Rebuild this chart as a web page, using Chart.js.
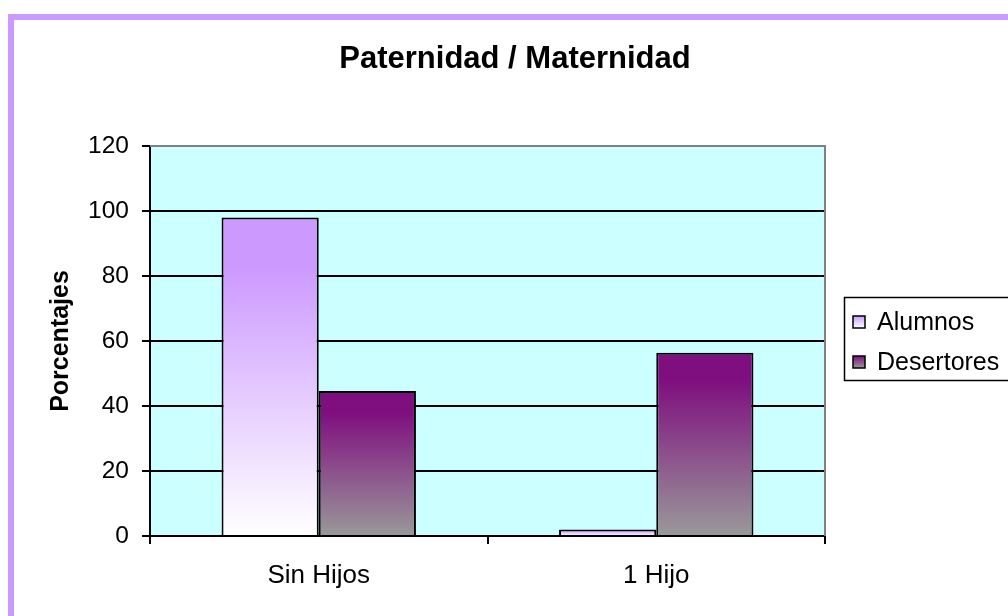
<!DOCTYPE html>
<html>
<head>
<meta charset="utf-8">
<title>Paternidad / Maternidad</title>
<script src="https://cdn.jsdelivr.net/npm/chart.js@4"></script>
<style>
  html, body { margin: 0; padding: 0; background: #fff; }
  #wrap { width: 1008px; height: 616px; position: relative; }
</style>
</head>
<body>
<div id="wrap"><canvas id="chart" width="1008" height="616"></canvas></div>
<script>
// Datos
const titulo = 'Paternidad / Maternidad';
const categorias = ['Sin Hijos', '1 Hijo'];
const alumnos = [98, 2];
const desertores = [44.6, 56.4];
const ticksY = [0, 20, 40, 60, 80, 100, 120];

// colores degradados (arriba, abajo)
const colAlumnos = ['#CC99FF', '#FFFFFF'];
const colDesertores = ['#7F0F7F', '#999999'];

const FUENTE = "'Liberation Sans', Arial, sans-serif";
Chart.defaults.font.family = FUENTE;
Chart.defaults.color = '#000';

function degradado(ctx, cols) {
    const chart = ctx.chart;
    if (!chart.chartArea || !ctx.parsed) return cols[0];
    const y = chart.scales.y;
    const y0 = y.getPixelForValue(ctx.parsed.y);
    const y1 = y.getPixelForValue(0);
    const g = chart.ctx.createLinearGradient(0, y0, 0, y1);
    g.addColorStop(0, cols[0]);
    g.addColorStop(0.15, cols[0]);
    g.addColorStop(1, cols[1]);
    return g;
}

// fondo del area, marco morado, titulo y leyenda con recuadro
const extras = {
    id: 'extras',
    beforeDraw(chart) {
        const c = chart.ctx;
        const a = chart.chartArea;
        c.save();
        c.fillStyle = '#fff';
        c.fillRect(0, 0, chart.width, chart.height);
        c.fillStyle = '#CC99FF';
        c.fillRect(8, 14, chart.width - 8, 6);
        c.fillRect(8, 14, 6, chart.height - 14);
        c.fillStyle = '#CCFFFF';
        c.fillRect(a.left, a.top, a.right - a.left, a.bottom - a.top);
        c.restore();
    },
    afterDraw(chart) {
        const c = chart.ctx;
        const a = chart.chartArea;
        c.save();
        // borde gris del area de trazado
        c.strokeStyle = '#808080';
        c.lineWidth = 2;
        c.beginPath();
        c.moveTo(a.left, a.top);
        c.lineTo(a.right, a.top);
        c.lineTo(a.right, a.bottom);
        c.stroke();

        // titulo
        c.fillStyle = '#000';
        c.font = 'bold 31px ' + FUENTE;
        c.textAlign = 'center';
        c.textBaseline = 'alphabetic';
        c.fillText(titulo, 515, 68);

        // leyenda
        c.textAlign = 'left';
        c.strokeStyle = '#000';
        c.lineWidth = 1.5;
        c.strokeRect(844.5, 297.5, 180, 83);
        const cols = [colAlumnos, colDesertores];
        c.font = '25px ' + FUENTE;
        c.textBaseline = 'middle';
        chart.data.datasets.forEach((ds, i) => {
            const yc = 322 + i * 40;
            const g = c.createLinearGradient(0, yc - 6, 0, yc + 6);
            g.addColorStop(0, cols[i][0]);
            g.addColorStop(1, cols[i][1]);
            c.fillStyle = g;
            c.fillRect(853, yc - 6, 12, 12);
            c.lineWidth = 1.5;
            c.strokeRect(853, yc - 6, 12, 12);
            c.fillStyle = '#000';
            c.fillText(ds.label, 877, yc + 1);
        });
        c.restore();
    }
};

new Chart(document.getElementById('chart'), {
    type: 'bar',
    data: {
        labels: categorias,
        datasets: [
            {
                label: 'Alumnos',
                data: alumnos,
                backgroundColor: ctx => degradado(ctx, colAlumnos),
                borderColor: '#000',
                borderWidth: 2
            },
            {
                label: 'Desertores',
                data: desertores,
                backgroundColor: ctx => degradado(ctx, colDesertores),
                borderColor: '#000',
                borderWidth: 2
            }
        ]
    },
    options: {
        responsive: false,
        animation: false,
        events: [],
        layout: { padding: { top: 146, right: 183, bottom: 0, left: 0 } },
        datasets: { bar: { categoryPercentage: 0.576, barPercentage: 1.0 } },
        plugins: {
            legend: { display: false },
            tooltip: { enabled: false },
            title: { display: false }
        },
        scales: {
            x: {
                afterFit: s => { s.height = 80; },
                grid: { display: true, drawOnChartArea: false, drawTicks: true, tickLength: 8, color: '#000', lineWidth: 2 },
                border: { display: true, color: '#000', width: 2 },
                ticks: { font: { size: 26 }, color: '#000', padding: 16 }
            },
            y: {
                min: 0,
                max: 120,
                afterFit: s => { s.width = 150; },
                afterBuildTicks: s => { s.ticks = ticksY.map(v => ({ value: v })); },
                grid: {
                    color: ctx => (ctx.tick && ctx.tick.value === 120 ? '#808080' : '#000'),
                    tickColor: '#000',
                    lineWidth: 2,
                    tickLength: 8
                },
                border: { display: true, color: '#000', width: 2 },
                ticks: { font: { size: 24.5 }, color: '#000', padding: 13 },
                title: {
                    display: true,
                    text: 'Porcentajes',
                    font: { size: 25, weight: 'bold' },
                    color: '#000',
                    padding: { top: 46, bottom: 0 }
                }
            }
        }
    },
    plugins: [extras]
});
</script>
</body>
</html>
